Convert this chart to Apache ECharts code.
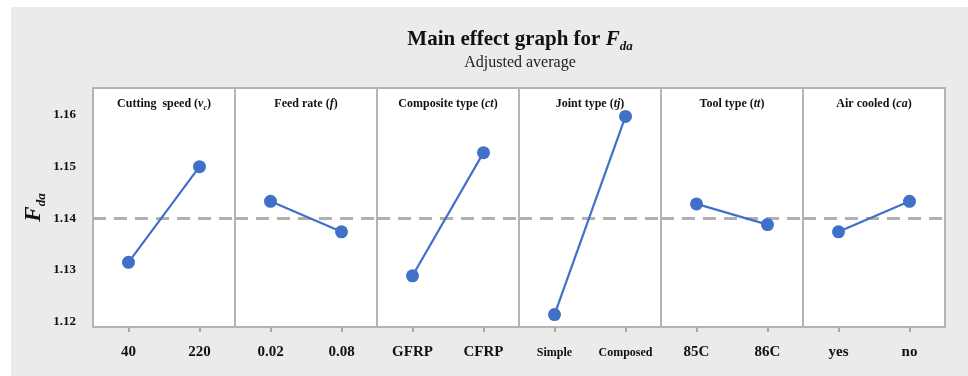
<!DOCTYPE html>
<html><head><meta charset="utf-8">
<script src="https://cdn.jsdelivr.net/npm/echarts@6/dist/echarts.min.js"></script>
<style>html,body{margin:0;padding:0;background:#fff}#c{width:968px;height:376px}</style>
</head><body><div id="c"></div>
<script>
// ---- data ----
const panelTitles = ['Cutting  speed ({i|v}{s|c})', 'Feed rate ({i|f})', 'Composite type ({i|ct})', 'Joint type ({i|tj})', 'Tool type ({i|tt})', 'Air cooled ({i|ca})'];
const cat1 = ['40', '220'];
const cat2 = ['0.02', '0.08'];
const cat3 = ['GFRP', 'CFRP'];
const cat4 = ['Simple', 'Composed'];
const cat5 = ['85C', '86C'];
const cat6 = ['yes', 'no'];
const val1 = [1.1315, 1.1500];
const val2 = [1.1433, 1.1374];
const val3 = [1.1289, 1.1527];
const val4 = [1.1214, 1.1597];
const val5 = [1.1428, 1.1388];
const val6 = [1.1374, 1.1433];
const grandMean = 1.1406;
const yTicks = [1.12, 1.13, 1.14, 1.15, 1.16];
const yMin = 1.119, yMax = 1.1652;

const categories = [cat1, cat2, cat3, cat4, cat5, cat6];
const values = [val1, val2, val3, val4, val5, val6];

// ---- layout / style ----
const SERIF = '"Liberation Serif","Times New Roman",serif';
const BLUE = '#4170c8';
const L0 = 93, W = 142, TOP = 88, H = 239;

const chart = echarts.init(document.getElementById('c'), null, {renderer: 'canvas'});
const grids = [], xAxes = [], yAxes = [], series = [], graphics = [];

graphics.push({type: 'rect', z: -10, silent: true, shape: {x: 11, y: 7, width: 957, height: 369}, style: {fill: '#ebebeb'}});

const subRich = (size, subSize, lh) => ({
  i: {fontFamily: SERIF, fontWeight: 'bold', fontStyle: 'italic', fontSize: size, lineHeight: lh},
  s: {fontFamily: SERIF, fontWeight: 'bold', fontStyle: 'italic', fontSize: subSize, lineHeight: subSize, verticalAlign: 'bottom'}
});

for (let i = 0; i < 6; i++) {
  grids.push({left: L0 + i * W, top: TOP, width: W, height: H, show: true,
    backgroundColor: '#ffffff', borderColor: '#b4b4b4', borderWidth: 2});
  xAxes.push({type: 'category', gridIndex: i, data: categories[i], boundaryGap: true,
    axisLine: {show: false},
    axisTick: {show: true, alignWithLabel: true, length: 5, lineStyle: {color: '#a8a8a8', width: 2}},
    axisLabel: {fontFamily: SERIF, fontWeight: 'bold', fontSize: i === 3 ? 12 : 15, color: '#111', margin: i === 3 ? 20 : 18},
    splitLine: {show: false}});
  const ya = {type: 'value', gridIndex: i, min: yMin, max: yMax,
    axisLine: {show: false}, axisTick: {show: false}, splitLine: {show: false},
    axisLabel: {show: i === 0, customValues: yTicks, fontFamily: SERIF, fontWeight: 'bold', fontSize: 13, color: '#111', margin: 17,
      formatter: v => v.toFixed(2)}};
  if (i === 0) {
    ya.name = '{i|F}{s|da}';
    ya.nameLocation = 'middle';
    ya.nameRotate = 90;
    ya.nameGap = 45;
    ya.nameTextStyle = {fontFamily: SERIF, fontWeight: 'bold', fontStyle: 'italic', fontSize: 23, color: '#111',
      rich: subRich(23, 13, 28)};
  }
  yAxes.push(ya);
  series.push({type: 'line', xAxisIndex: i, yAxisIndex: i, data: values[i], z: 3,
    symbol: 'circle', symbolSize: 13, lineStyle: {color: BLUE, width: 2.2}, itemStyle: {color: BLUE},
    animation: false,
    markLine: {silent: true, symbol: 'none', z: 1, animation: false, label: {show: false},
      lineStyle: {color: '#b0b0b0', type: [13, 8], width: 3},
      data: [{yAxis: grandMean}]}});
  graphics.push({type: 'text', x: L0 + i * W + W / 2, y: 104, z: 10,
    style: {text: panelTitles[i], fontFamily: SERIF, fontWeight: 'bold', fontSize: 12, lineHeight: 16, fill: '#111',
      align: 'center', verticalAlign: 'middle', rich: subRich(12, 8, 16)}});
}

graphics.push({type: 'text', x: 520, y: 40, z: 10,
  style: {text: 'Main effect graph for {i|F}{s|da}', fontFamily: SERIF, fontWeight: 'bold', fontSize: 21, lineHeight: 26, fill: '#111',
    align: 'center', verticalAlign: 'middle', rich: subRich(21, 13, 26)}});
graphics.push({type: 'text', x: 520, y: 63, z: 10,
  style: {text: 'Adjusted average', fontFamily: SERIF, fontSize: 16, fill: '#222', align: 'center', verticalAlign: 'middle'}});

chart.setOption({
  backgroundColor: '#ffffff',
  animation: false,
  grid: grids, xAxis: xAxes, yAxis: yAxes, series: series,
  graphic: {elements: graphics}
});
</script></body></html>
